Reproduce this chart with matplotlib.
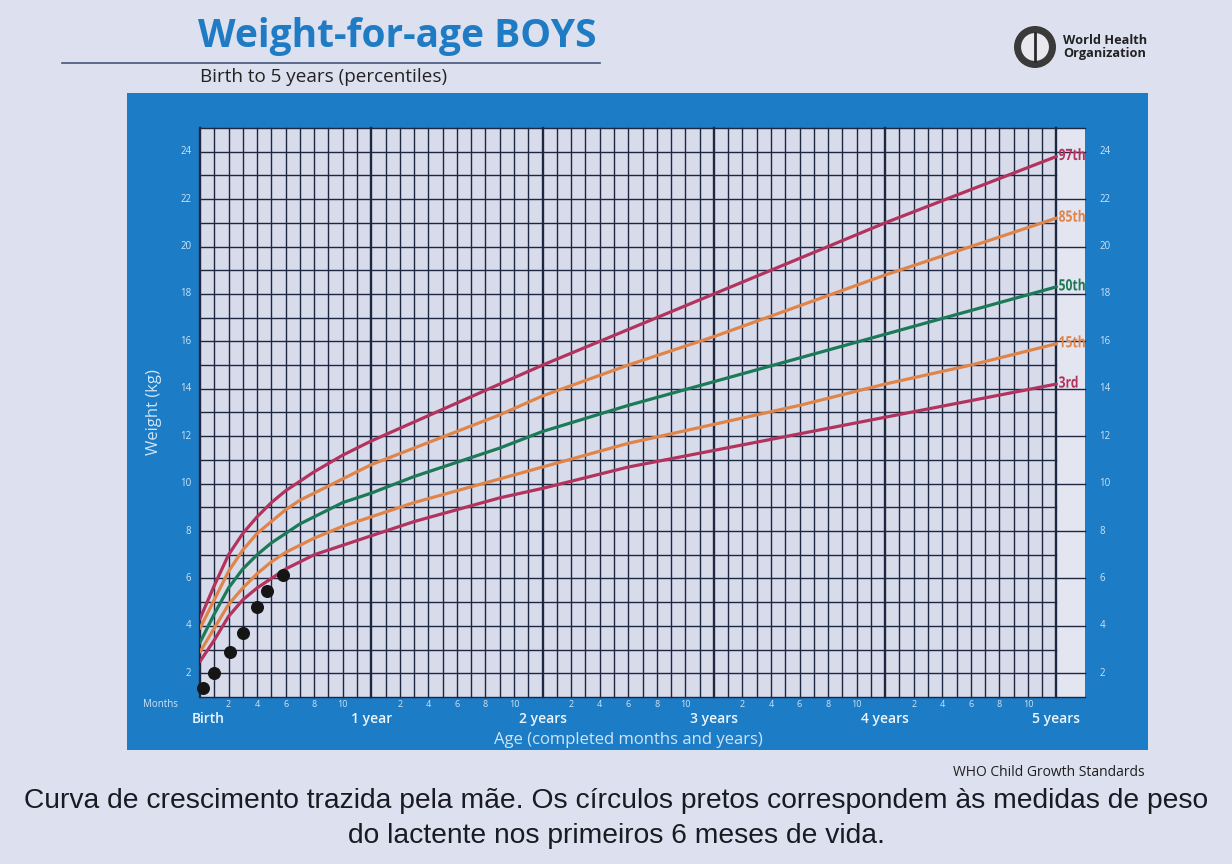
import numpy as np
import matplotlib.pyplot as plt
from matplotlib.patches import Rectangle, Circle, PathPatch
from matplotlib.textpath import TextPath
from matplotlib.font_manager import FontProperties
from matplotlib.transforms import Affine2D

# ---------------- data ----------------
months = [0, 1, 2, 3, 4, 5, 6, 7, 8, 9, 10, 11, 12,
          15, 18, 21, 24, 30, 36, 42, 48, 54, 60]

p3 = [2.5, 3.4, 4.4, 5.1, 5.6, 6.0, 6.4, 6.7, 7.0, 7.2, 7.4, 7.6, 7.8,
      8.4, 8.9, 9.4, 9.8, 10.7, 11.4, 12.1, 12.8, 13.5, 14.2]
p15 = [2.9, 3.9, 4.9, 5.6, 6.2, 6.7, 7.1, 7.4, 7.7, 7.95, 8.2, 8.4, 8.6,
       9.2, 9.7, 10.2, 10.7, 11.7, 12.5, 13.3, 14.2, 15.0, 15.9]
p50 = [3.3, 4.5, 5.6, 6.4, 7.0, 7.5, 7.9, 8.3, 8.6, 8.9, 9.2, 9.4, 9.6,
       10.3, 10.9, 11.5, 12.2, 13.3, 14.3, 15.3, 16.3, 17.3, 18.3]
p85 = [3.9, 5.1, 6.3, 7.2, 7.9, 8.4, 8.9, 9.3, 9.6, 9.9, 10.2, 10.5, 10.8,
       11.5, 12.2, 12.9, 13.7, 15.0, 16.2, 17.5, 18.8, 20.0, 21.2]
p97 = [4.3, 5.7, 7.0, 7.9, 8.6, 9.2, 9.7, 10.1, 10.5, 10.85, 11.2, 11.5, 11.8,
       12.6, 13.4, 14.2, 15.0, 16.5, 18.0, 19.5, 21.0, 22.4, 23.8]

pct_labels = ["97th", "85th", "50th", "15th", "3rd"]

# infant measurements (black dots), first 6 months
baby_months = [0.2, 1.0, 2.1, 3.0, 4.0, 4.7, 5.8]
baby_weight = [1.4, 2.0, 2.9, 3.7, 4.8, 5.45, 6.15]

year_labels = ["Birth", "1 year", "2 years", "3 years", "4 years", "5 years"]
month_ticks = [2, 4, 6, 8, 10]
kg_ticks = list(range(2, 25, 2))

# ---------------- styling ----------------
bg = "#dde0ee"
frame_blue = "#1c7cc6"
grid_bg = "#d7dbea"
strip_bg = "#e3e5f0"
grid_col = "#1d2742"
light_txt = "#cfe4f6"
c_red = "#b3335f"
c_orange = "#e0854a"
c_green = "#1d7a58"

W, H = 1232, 864
fig = plt.figure(figsize=(W / 100, H / 100), dpi=100, facecolor=bg)

# blue frame behind the chart
frame = fig.add_axes([127 / W, 1 - 750 / H, (1148 - 127) / W, (750 - 93) / H])
frame.set_facecolor(frame_blue)
frame.set_xticks([])
frame.set_yticks([])
for s in frame.spines.values():
    s.set_visible(False)
frame.set_zorder(0)

ax = fig.add_axes([200 / W, 1 - 697 / H, 885 / W, (697 - 128) / H])
ax.set_zorder(1)
ax.set_xlim(0, 62)
ax.set_ylim(1, 25)
ax.set_facecolor(grid_bg)
for s in ax.spines.values():
    s.set_visible(False)
ax.set_xticks([])
ax.set_yticks([])

# right-hand label strip
ax.add_patch(Rectangle((60, 1), 2, 24, facecolor=strip_bg, edgecolor="none", zorder=0))

# grid
for m in range(0, 61):
    lw = 1.7 if m % 12 == 0 else 1.0
    ax.plot([m, m], [1, 25], color=grid_col, lw=lw, zorder=1, clip_on=False)
for k in range(1, 26):
    ax.plot([0, 60], [k, k], color=grid_col, lw=1.0, zorder=1, clip_on=False)
for k in [1, 25] + kg_ticks:
    ax.plot([60, 62], [k, k], color=grid_col, lw=1.0, zorder=1, clip_on=False)

# percentile curves, with condensed bold labels in the strip
label_font = FontProperties(family="Open Sans", weight="bold")
series = [p97, p85, p50, p15, p3]
colors = [c_red, c_orange, c_green, c_orange, c_red]
for vals, col, lab in zip(series, colors, pct_labels):
    ax.plot(months, vals, color=col, lw=2.3, zorder=3, solid_capstyle="round")
    tp = TextPath((0, 0), lab, size=1, prop=label_font)
    tr = Affine2D().scale(0.85, 0.66).translate(60.15, vals[-1] - 0.15)
    ax.add_patch(PathPatch(tr.transform_path(tp), facecolor=col, edgecolor="none",
                           zorder=4, clip_on=False))

# measurements
ax.scatter(baby_months, baby_weight, s=70, color="#151515", zorder=5, clip_on=False)

# axis labels drawn as text
for k in kg_ticks:
    ax.text(-0.6, k, str(k), color=light_txt, fontsize=7, ha="right", va="center",
            family="Open Sans")
    ax.text(63.0, k, str(k), color=light_txt, fontsize=7, ha="left", va="center",
            family="Open Sans")
for yr in range(5):
    for m in month_ticks:
        ax.text(yr * 12 + m, 0.68, str(m), color=light_txt, fontsize=6.5,
                ha="center", va="center", family="Open Sans")
ax.text(-2.8, 0.68, "Months", color=light_txt, fontsize=7, ha="center", va="center",
        family="Open Sans")
for i, lab in enumerate(year_labels):
    x = 0.6 if i == 0 else i * 12
    ax.text(x, 0.08, lab, color="#eef6fd", fontsize=10, fontweight="semibold",
            ha="center", va="center", family="Open Sans")
ax.text(30, -0.8, "Age (completed months and years)", color=light_txt, fontsize=12,
        ha="center", va="center", family="Open Sans")
ax.text(-3.2, 13, "Weight (kg)", color=light_txt, fontsize=12, rotation=90,
        ha="center", va="center", family="Open Sans")

# header
fig.text(198 / W, 1 - 36 / H, "Weight-for-age BOYS", color="#1f7cc4",
         fontsize=28, fontweight="bold", family="Open Sans", ha="left", va="center")
fig.add_artist(plt.Line2D([62 / W, 600 / W], [1 - 63 / H, 1 - 63 / H],
                          color="#44557a", lw=1.2, transform=fig.transFigure))
fig.text(200 / W, 1 - 77 / H, "Birth to 5 years (percentiles)", color="#222222",
         fontsize=13.6, family="Open Sans", ha="left", va="center")

# WHO emblem (simplified) and name, in inches
cx, cy = 10.35, (H - 47) / 100
fig.patches.append(Circle((cx, cy), 0.21, transform=fig.dpi_scale_trans,
                          facecolor="#3a3a3a", edgecolor="none"))
fig.patches.append(Circle((cx, cy), 0.15, transform=fig.dpi_scale_trans,
                          facecolor="#e8e8ee", edgecolor="#3a3a3a", lw=1.5))
fig.add_artist(plt.Line2D([cx, cx], [cy - 0.14, cy + 0.14], color="#2a2a2a", lw=2,
                          transform=fig.dpi_scale_trans))
fig.text(1063 / W, 1 - 47 / H, "World Health\nOrganization", color="#222222",
         fontsize=9.2, fontweight="bold", family="Open Sans", ha="left", va="center",
         linespacing=1.0)

fig.text(1145 / W, 1 - 773 / H, "WHO Child Growth Standards", color="#1e1e1e",
         fontsize=10, family="Open Sans", ha="right", va="center")

# caption
fig.text(0.5, 1 - 801 / H,
         "Curva de crescimento trazida pela mãe. Os círculos pretos correspondem às medidas de peso",
         color="#1a1a22", fontsize=20.3, family="Liberation Sans", ha="center", va="center")
fig.text(0.5, 1 - 836 / H, "do lactente nos primeiros 6 meses de vida.",
         color="#1a1a22", fontsize=20.3, family="Liberation Sans", ha="center", va="center")

fig.savefig("out.png", dpi=100, facecolor=bg)
